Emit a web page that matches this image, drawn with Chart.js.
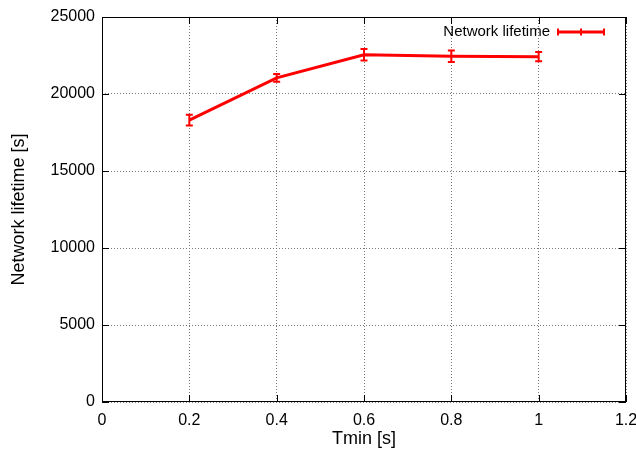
<!DOCTYPE html>
<html>
<head>
<meta charset="utf-8">
<script src="https://cdn.jsdelivr.net/npm/chart.js@4.4.0/dist/chart.umd.min.js"></script>
<style>
  html, body { margin: 0; padding: 0; background: #fff; }
  #wrap { width: 636px; height: 452px; }
</style>
</head>
<body>
<div id="wrap"><canvas id="myChart" width="636" height="452"></canvas></div>
<script>
// data
var tmin = [0.2, 0.4, 0.6, 0.8, 1.0];
var lifetime = [18300, 21050, 22550, 22450, 22420];
var lifetimeErr = [350, 250, 370, 370, 300];
var xTicks = [0, 0.2, 0.4, 0.6, 0.8, 1, 1.2];
var yTicks = [0, 5000, 10000, 15000, 20000, 25000];

var RED = "#ff0000";
var FONT = "'Liberation Sans', Arial, Helvetica, sans-serif";

// error bars, frame with inward ticks, and the gnuplot style key
var gnuplotBits = {
	id: "gnuplotBits",
	afterDatasetsDraw: function (chart) {
		var ctx = chart.ctx;
		var xs = chart.scales.x;
		var ys = chart.scales.y;
		var a = chart.chartArea;
		ctx.save();

		// error bars
		ctx.strokeStyle = RED;
		ctx.lineWidth = 2;
		for (var i = 0; i < tmin.length; i++) {
			var px = xs.getPixelForValue(tmin[i]);
			var top = ys.getPixelForValue(lifetime[i] + lifetimeErr[i]);
			var bot = ys.getPixelForValue(lifetime[i] - lifetimeErr[i]);
			ctx.beginPath();
			ctx.moveTo(px, top);
			ctx.lineTo(px, bot);
			ctx.moveTo(px - 3.5, top);
			ctx.lineTo(px + 3.5, top);
			ctx.moveTo(px - 3.5, bot);
			ctx.lineTo(px + 3.5, bot);
			ctx.stroke();
		}

		// frame
		ctx.strokeStyle = "#000";
		ctx.lineWidth = 1;
		ctx.strokeRect(Math.round(a.left) + 0.5, Math.round(a.top) + 0.5,
			Math.round(a.right - a.left) - 1, Math.round(a.bottom - a.top) - 1);

		// inward ticks, mirrored
		ctx.beginPath();
		xTicks.forEach(function (v) {
			var p = Math.round(xs.getPixelForValue(v)) + 0.5;
			ctx.moveTo(p, a.bottom);
			ctx.lineTo(p, a.bottom - 7);
			ctx.moveTo(p, a.top);
			ctx.lineTo(p, a.top + 7);
		});
		yTicks.forEach(function (v) {
			var p = Math.round(ys.getPixelForValue(v)) + 0.5;
			ctx.moveTo(a.left, p);
			ctx.lineTo(a.left + 7, p);
			ctx.moveTo(a.right, p);
			ctx.lineTo(a.right - 7, p);
		});
		ctx.stroke();

		// key
		var ky = a.top + 15;
		var kx1 = a.right - 68;
		var kx2 = a.right - 22;
		ctx.font = "15px " + FONT;
		ctx.fillStyle = "#000";
		ctx.textAlign = "right";
		ctx.textBaseline = "middle";
		ctx.fillText(chart.data.datasets[0].label, kx1 - 8, ky);
		ctx.strokeStyle = RED;
		ctx.lineWidth = 3;
		ctx.beginPath();
		ctx.moveTo(kx1, ky);
		ctx.lineTo(kx2, ky);
		ctx.stroke();
		ctx.lineWidth = 2;
		ctx.beginPath();
		[kx1, (kx1 + kx2) / 2, kx2].forEach(function (p) {
			ctx.moveTo(p, ky - 3.5);
			ctx.lineTo(p, ky + 3.5);
		});
		ctx.stroke();
		ctx.restore();
	},
};

var ctx = document.getElementById("myChart").getContext("2d");
var myChart = new Chart(ctx, {
	type: "line",
	data: {
		datasets: [
			{
				label: "Network lifetime",
				data: tmin.map(function (t, i) {
					return { x: t, y: lifetime[i] };
				}),
				borderColor: RED,
				backgroundColor: RED,
				borderWidth: 3,
				pointRadius: 0,
				tension: 0,
				fill: false,
			},
		],
	},
	options: {
		responsive: false,
		animation: false,
		layout: {
			padding: { top: 17, right: 10, left: 0, bottom: 0 },
		},
		plugins: {
			legend: { display: false },
			tooltip: { enabled: false },
		},
		scales: {
			x: {
				type: "linear",
				min: 0,
				max: 1.2,
				afterBuildTicks: function (scale) {
					scale.ticks = xTicks.map(function (v) {
						return { value: v };
					});
				},
				afterFit: function (scale) {
					scale.height = 50;
					scale.paddingRight = 0;
					scale.paddingLeft = 0;
				},
				grid: {
					color: "#777",
					lineWidth: 1,
					drawTicks: false,
				},
				border: { display: false, dash: [1, 2] },
				ticks: {
					padding: 9,
					color: "#000",
					font: { family: FONT, size: 16 },
					maxRotation: 0,
					callback: function (v) {
						return String(Math.round(v * 10) / 10);
					},
				},
				title: {
					display: true,
					text: "Tmin [s]",
					color: "#000",
					font: { family: FONT, size: 18 },
					padding: { top: 0, bottom: 2 },
				},
			},
			y: {
				min: 0,
				max: 25000,
				afterBuildTicks: function (scale) {
					scale.ticks = yTicks.map(function (v) {
						return { value: v };
					});
				},
				afterFit: function (scale) {
					scale.width = 102;
					scale.paddingTop = 0;
					scale.paddingBottom = 0;
				},
				grid: {
					color: "#777",
					lineWidth: 1,
					drawTicks: false,
				},
				border: { display: false, dash: [1, 2] },
				ticks: {
					padding: 7,
					color: "#000",
					font: { family: FONT, size: 16 },
					callback: function (v) {
						return String(v);
					},
				},
				title: {
					display: true,
					text: "Network lifetime [s]",
					color: "#000",
					font: { family: FONT, size: 18 },
					padding: { top: 8, bottom: 0 },
				},
			},
		},
	},
	plugins: [gnuplotBits],
});
</script>
</body>
</html>
